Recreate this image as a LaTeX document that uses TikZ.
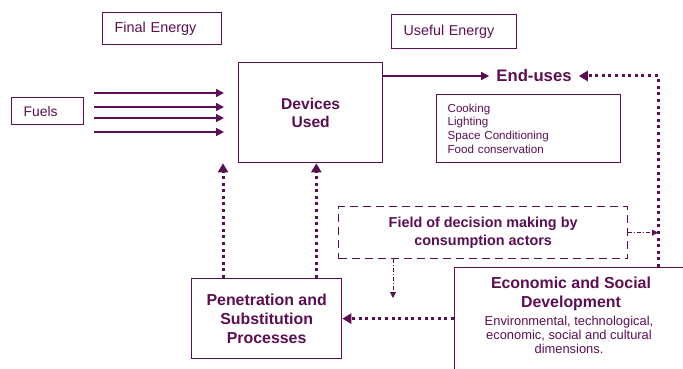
\documentclass[tikz,border=0pt]{standalone}
\usepackage{fontspec}
\setmainfont{Liberation Sans}
\usetikzlibrary{arrows.meta}

\definecolor{plum}{RGB}{92,14,82}
\newcommand\fsz[2]{\fontsize{#1}{#2}\selectfont}

\tikzset{
  box/.style={draw=plum, line width=1.3pt, text=plum, inner sep=0pt},
  dashbox/.style={box, dash pattern=on 8pt off 5pt},
  flow/.style={draw=plum, line width=1.3pt, -{Triangle[length=8pt,width=8pt]}},
  dotflow/.style={draw=plum, line width=3pt, line cap=butt, dash pattern=on 3pt off 3.6pt, -{Triangle[length=9pt,width=10pt]}},
  hint/.style={draw=plum, line width=1pt, dash pattern=on 4pt off 2pt on 1pt off 2pt, -{Triangle[length=6pt,width=6pt]}}
}

\begin{document}
\begin{tikzpicture}[x=1pt,y=-1pt]
  \useasboundingbox (0,0) rectangle (683,369);
  \clip (0,0) rectangle (683,369);

  \node[box,anchor=north west,minimum width=119pt,minimum height=32pt,inner xsep=12pt,text width=95pt,align=left,font=\fsz{14.4}{17}] (final) at (102,12) {Final Energy};
  \node[box,anchor=north west,minimum width=125pt,minimum height=34pt,inner xsep=12pt,text width=101pt,align=left,font=\fsz{14.3}{17}] (useful) at (391,14) {Useful Energy};
  \node[box,anchor=north west,minimum width=72pt,minimum height=27pt,inner xsep=12pt,text width=48pt,align=left,font=\fsz{13.9}{17}] (fuels) at (11,97) {Fuels};
  \node[box,anchor=north west,minimum width=144pt,minimum height=100pt,align=center,font=\fsz{15.6}{18}\bfseries] (devices) at (238,62) {Devices\\Used};
  \node[text=plum,inner xsep=7pt,font=\fsz{16.7}{19}\bfseries] (endu) at (534,76) {End-uses};
  \node[box,anchor=north west,minimum width=184pt,minimum height=68pt,inner xsep=11pt,text width=162pt,align=left,font=\fsz{11.6}{13.7}] (uses) at (436,94)
    {Cooking\\Lighting\\Space Conditioning\\Food conservation};
  \node[dashbox,anchor=north west,minimum width=289pt,minimum height=52pt,align=center,font=\fsz{14.4}{18}\bfseries] (field) at (338,206)
    {Field of decision making by\\consumption actors};
  \node[box,anchor=north west,minimum width=150pt,minimum height=80pt,align=center,font=\fsz{15.9}{19}\bfseries] (pen) at (191,278)
    {Penetration and\\Substitution\\Processes};
  \node[box,anchor=north west,minimum width=260pt,minimum height=140pt] (econ) at (454,267) {};
  \node[text=plum,inner sep=0pt,anchor=north,align=center,font=\fsz{15.9}{19}\bfseries] (econtitle) at (571,277)
    {Economic and Social\\Development};
  \node[text=plum,inner sep=0pt,anchor=north,align=center,font=\fsz{12.9}{14}] (econtext) at (569,316)
    {Environmental, technological,\\economic, social and cultural\\dimensions.};

  \coordinate (turn) at (658,76);
  \coordinate (drop) at (393,298);

  \foreach \y in {93,107,118,132}
    \draw[flow] ([xshift=10pt]fuels.east |- 0,\y) -- ([xshift=-14pt]devices.west |- 0,\y);
  \draw[flow] (devices.east |- endu.west) -- (endu.west);

  \draw[dotflow] (econ.north west -| turn) -- (turn) -- (endu.east);
  \draw[dotflow] (econ.west |- pen.east) -- (pen.east);
  \draw[dotflow] ([xshift=32pt]pen.north west) -- ([xshift=32pt]pen.north west |- devices.south);
  \draw[dotflow] ([xshift=-26pt]pen.north east) -- ([xshift=-26pt]pen.north east |- devices.south);

  \draw[hint] (field.east) -- (field.east -| turn);
  \draw[hint] (field.south -| drop) -- (drop);
\end{tikzpicture}
\end{document}
